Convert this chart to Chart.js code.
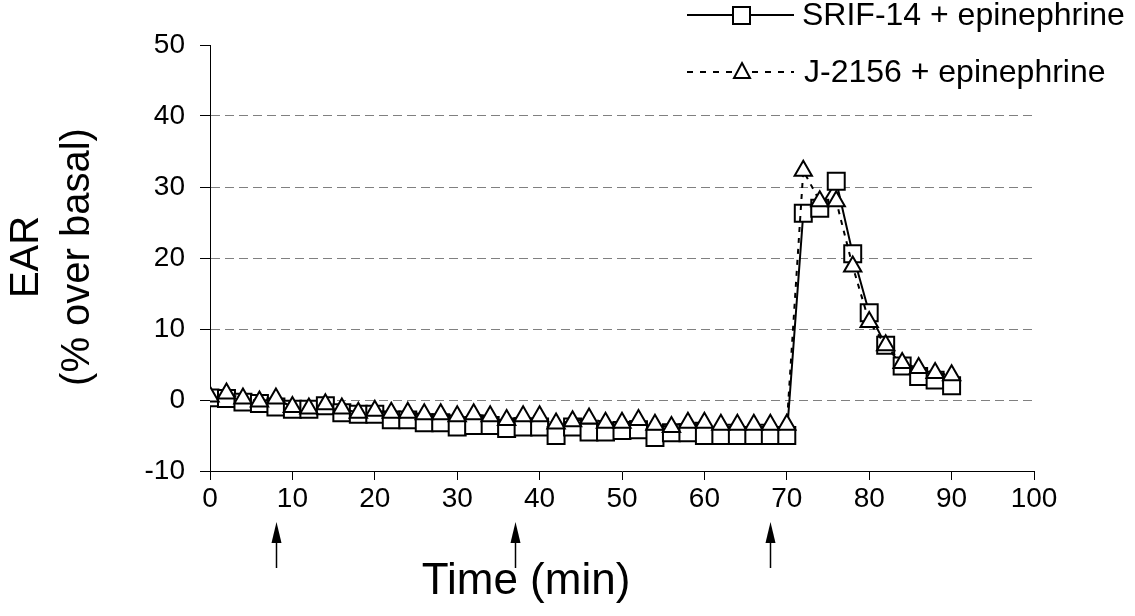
<!DOCTYPE html>
<html>
<head>
<meta charset="utf-8">
<script src="https://cdn.jsdelivr.net/npm/chart.js@4/dist/chart.umd.min.js"></script>
<style>
  html, body { margin: 0; padding: 0; background: #fff; }
  #wrap { width: 1135px; height: 616px; }
</style>
</head>
<body>
<div id="wrap"><canvas id="c" width="1135" height="616"></canvas></div>
<script>
// =====================
// Data
// =====================
const times = [0, 2, 4, 6, 8, 10, 12, 14, 16, 18, 20, 22, 24, 26, 28, 30, 32, 34, 36, 38, 40,
  42, 44, 46, 48, 50, 52, 54, 56, 58, 60, 62, 64, 66, 68, 70, 72, 74, 76, 78, 80, 82, 84, 86, 88, 90]

const srifValues = [0.3, 0.2, -0.3, -0.5, -1.0, -1.3, -1.3, -0.8, -1.8, -2.0, -2.0, -2.8, -2.8, -3.2, -3.2, -3.8,
  -3.6, -3.6, -4.0, -3.8, -3.8, -5.0, -3.8, -4.5, -4.5, -4.3, -4.2, -5.3, -4.6, -4.6, -5.0, -5.0, -5.0, -5.0,
  -5.0, -5.0, 26.3, 27.0, 30.8, 20.6, 12.3, 7.7, 4.8, 3.3, 2.8, 2.0]

const j2156Values = [0.5, 0.9, 0.2, -0.2, 0.2, -1.0, -1.2, -0.6, -1.2, -1.8, -1.5, -1.8, -1.8, -2.0, -2.0, -2.3,
  -2.0, -2.3, -2.8, -2.3, -2.3, -3.3, -3.0, -2.6, -3.2, -3.2, -2.8, -3.5, -3.8, -3.2, -3.2, -3.5, -3.5, -3.5,
  -3.5, -3.5, 32.3, 28.0, 28.0, 18.8, 11.0, 7.7, 5.2, 4.5, 3.8, 3.5]

const seriesLabels = ["SRIF-14 + epinephrine", "J-2156 + epinephrine"]
const arrowTimes = [8, 37, 68]

const FONT = "'Liberation Sans', Arial, sans-serif"


// =====================
// Extra drawing: legend, titles, arrows
// =====================
const extras = {
  id: "extras",
  afterDraw(chart) {
    const ctx = chart.ctx
    const x = chart.scales.x

    ctx.save()
    ctx.fillStyle = "#000"
    ctx.strokeStyle = "#000"

    // legend
    ctx.lineWidth = 2
    ctx.font = `32px ${FONT}`
    ctx.textBaseline = "middle"
    ctx.textAlign = "left"

    ctx.setLineDash([])
    ctx.beginPath()
    ctx.moveTo(687, 15)
    ctx.lineTo(794, 15)
    ctx.stroke()
    ctx.fillStyle = "#fff"
    ctx.fillRect(733, 7, 17, 17)
    ctx.strokeRect(733, 7, 17, 17)
    ctx.fillStyle = "#000"
    ctx.fillText(seriesLabels[0], 802, 16)

    ctx.setLineDash([6, 7])
    ctx.beginPath()
    ctx.moveTo(687, 72)
    ctx.lineTo(794, 72)
    ctx.stroke()
    ctx.setLineDash([])
    ctx.fillStyle = "#fff"
    ctx.beginPath()
    ctx.moveTo(742, 63)
    ctx.lineTo(750, 78)
    ctx.lineTo(734, 78)
    ctx.closePath()
    ctx.fill()
    ctx.stroke()
    ctx.fillStyle = "#000"
    ctx.fillText(seriesLabels[1], 804, 73)

    // y title (two lines, rotated)
    ctx.save()
    ctx.translate(0, 257)
    ctx.rotate(-Math.PI / 2)
    ctx.textAlign = "center"
    ctx.font = `40px ${FONT}`
    ctx.fillText("EAR", 0, 27)
    ctx.fillText("(% over basal)", 0, 78)
    ctx.restore()

    // x title
    ctx.textAlign = "center"
    ctx.font = `44px ${FONT}`
    ctx.fillText("Time (min)", 526, 582)

    // arrows under the axis
    ctx.lineWidth = 1.5
    arrowTimes.forEach(t => {
      const px = Math.round(x.getPixelForValue(t)) + 0.5
      ctx.beginPath()
      ctx.moveTo(px, 568)
      ctx.lineTo(px, 540)
      ctx.stroke()
      ctx.beginPath()
      ctx.moveTo(px, 522)
      ctx.lineTo(px + 5, 543)
      ctx.lineTo(px - 5, 543)
      ctx.closePath()
      ctx.fill()
    })

    ctx.restore()
  }
}


// =====================
// Build chart
// =====================
new Chart(document.getElementById("c"), {
  type: "line",
  data: {
    datasets: [
      {
        label: seriesLabels[1],
        data: times.map((t, i) => ({ x: t, y: j2156Values[i] })),
        borderColor: "#000",
        borderWidth: 2,
        borderDash: [5, 6],
        pointStyle: "triangle",
        pointRadius: 10,
        pointBorderWidth: 2,
        pointBorderColor: "#000",
        pointBackgroundColor: "#fff",
        tension: 0,
        order: 0
      },
      {
        label: seriesLabels[0],
        data: times.map((t, i) => ({ x: t, y: srifValues[i] })),
        borderColor: "#000",
        borderWidth: 2,
        pointStyle: "rect",
        pointRadius: 12,
        pointBorderWidth: 2,
        pointBorderColor: "#000",
        pointBackgroundColor: "#fff",
        tension: 0,
        order: 1
      }
    ]
  },
  options: {
    responsive: false,
    animation: false,
    layout: {
      padding: { top: 45, right: 101, left: 0, bottom: 0 }
    },
    plugins: {
      legend: { display: false },
      tooltip: { enabled: false }
    },
    scales: {
      x: {
        type: "linear",
        min: 0,
        max: 100,
        ticks: {
          stepSize: 10,
          color: "#000",
          padding: 2,
          font: { family: FONT, size: 28 }
        },
        grid: {
          drawOnChartArea: false,
          tickLength: 9,
          tickColor: "#000"
        },
        border: { color: "#000", width: 1 },
        afterFit(scale) { scale.height = 145 }
      },
      y: {
        min: -10,
        max: 50,
        ticks: {
          stepSize: 10,
          color: "#000",
          padding: 15,
          font: { family: FONT, size: 28 }
        },
        grid: {
          color: ctx => (ctx.tick && ctx.tick.value > -10 && ctx.tick.value < 50) ? "#808080" : "rgba(0,0,0,0)",
          tickBorderDash: [],
          tickLength: 10,
          tickColor: "#000"
        },
        border: { color: "#000", width: 1, dash: [9, 5] },
        afterFit(scale) { scale.width = 210 }
      }
    }
  },
  plugins: [extras]
})
</script>
</body>
</html>
